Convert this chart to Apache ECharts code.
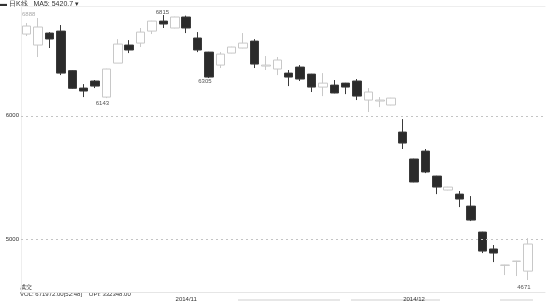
<!DOCTYPE html>
<html>
<head>
<meta charset="utf-8">
<script src="https://cdn.jsdelivr.net/npm/echarts@6/dist/echarts.min.js"></script>
<style>html,body{margin:0;padding:0;background:#fff}#c{width:550px;height:305px}</style>
</head>
<body>
<div id="c"></div>
<script>
// trading days (Oct 14 - Dec 15, 2014) + one empty slot
var categories = ['2014/10/14','2014/10/15','2014/10/16','2014/10/17','2014/10/20','2014/10/21','2014/10/22','2014/10/23','2014/10/24','2014/10/27','2014/10/28','2014/10/29','2014/10/30','2014/10/31',
  '2014/11/03','2014/11/04','2014/11/05','2014/11/06','2014/11/07','2014/11/10','2014/11/11','2014/11/12','2014/11/13','2014/11/14','2014/11/17','2014/11/18','2014/11/19','2014/11/20','2014/11/21','2014/11/24','2014/11/25','2014/11/26','2014/11/27','2014/11/28',
  '2014/12/01','2014/12/02','2014/12/03','2014/12/04','2014/12/05','2014/12/08','2014/12/09','2014/12/10','2014/12/11','2014/12/12','2014/12/15',''];
// [open, close, low, high]
var candles = [
  [6661,6726,6645,6750],[6572,6718,6475,6791],[6669,6621,6548,6677],[6685,6345,6329,6734],[6365,6222,6218,6368],
  [6224,6200,6151,6256],[6281,6240,6224,6289],[6151,6378,6143,6380],[6426,6580,6426,6620],[6572,6532,6507,6612],
  [6588,6677,6556,6710],[6685,6766,6661,6768],[6766,6742,6710,6815],[6710,6799,6708,6801],[6799,6710,6669,6810],
  [6629,6532,6515,6677],[6515,6313,6305,6517],[6410,6499,6386,6515],[6507,6556,6505,6558],[6548,6588,6546,6669],
  [6604,6418,6386,6620],[6402,6410,6370,6483],[6378,6451,6329,6475],[6345,6313,6240,6370],[6394,6297,6281,6410],
  [6337,6232,6192,6339],[6232,6264,6159,6345],[6248,6184,6182,6289],[6264,6232,6175,6266],[6281,6159,6127,6297],
  [6127,6192,6030,6224],[6119,6127,6070,6151],[6087,6143,6085,6145],[5868,5779,5731,5973],[5650,5464,5462,5652],
  [5714,5545,5536,5731],[5512,5423,5366,5514],[5399,5423,5397,5425],[5366,5326,5261,5391],[5269,5156,5148,5350],
  [5059,4905,4889,5061],[4922,4889,4816,4954],[4790,4792,4711,4794],[4822,4824,4703,4826],[4743,4962,4671,5010]
];
var gridValues = [6000, 5000];
var yMin = 4574, yMax = 6888;
var annotations = [ // [candle index, field: 2=low 3=high]
  [12, 3], [7, 2], [16, 2], [44, 2]
];
var titleText = '\u25AC 日K线   MA5: 5420.7 \u25BE';
var volText = 'VOL: 671972.00[52:48]    OPI: 332348.00';
var volLabel = '成交';

var offsets = {12: [-1, -3], 7: [-4, 5], 16: [-4, 3], 44: [-4, 7]};
var markData = annotations.map(function (a) {
  var v = candles[a[0]][a[1]];
  return { coord: [categories[a[0]], v], value: v, label: { offset: offsets[a[0]] } };
});

var chart = echarts.init(document.getElementById('c'), null, {renderer: 'canvas'});
var font = 'Liberation Sans, Arial, sans-serif';
chart.setOption({
  animation: false,
  backgroundColor: '#fff',
  textStyle: {fontFamily: font},
  grid: {left: 21, right: 5, top: 6, bottom: 13},
  xAxis: [{
    type: 'category', data: categories, boundaryGap: true,
    axisLine: {lineStyle: {color: '#e6e6e6'}}, axisTick: {show: false},
    axisLabel: {
      fontSize: 6, color: '#333', margin: 4, fontFamily: font,
      interval: function (i, v) { return i > 0 && v && categories[i - 1].slice(0, 7) !== v.slice(0, 7); },
      formatter: function (v) { return v.slice(0, 7); }
    },
    splitLine: {show: false}
  }, {
    type: 'category', data: categories, position: 'top', boundaryGap: true,
    axisLine: {lineStyle: {color: '#eeeeee'}}, axisTick: {show: false}, axisLabel: {show: false}
  }],
  yAxis: {
    type: 'value', min: yMin, max: yMax, scale: true,
    axisLine: {show: true, lineStyle: {color: '#eeeeee'}}, axisTick: {show: false},
    splitLine: {show: false},
    axisLabel: {customValues: gridValues, fontSize: 6, color: '#333', margin: 2, fontFamily: font,
      formatter: function (v) { return String(v); }}
  },
  series: [{
    type: 'candlestick', data: candles, barWidth: 9,
    itemStyle: {color: '#ffffff', color0: '#2b2b2b', borderColor: '#c8c8c8', borderColor0: '#3a3a3a', borderWidth: 1},
    markLine: {
      silent: true, symbol: 'none', label: {show: false},
      lineStyle: {type: [2, 3], color: '#c4c4c4', width: 1},
      data: gridValues.map(function (g) { return {yAxis: g}; })
    },
    markPoint: {
      symbol: 'circle', symbolSize: 1, itemStyle: {color: 'rgba(0,0,0,0)'},
      label: {show: true, position: 'inside', fontSize: 6, color: '#555', fontFamily: font, formatter: '{c}'},
      data: markData
    }
  }],
  graphic: [
    {type: 'text', left: 0, top: 1, style: {text: titleText, fontSize: 7, fill: '#333', fontFamily: font}},
    {type: 'text', left: 22, top: 11, style: {text: String(yMax), fontSize: 6, fill: '#aaa', fontFamily: font}},
    {type: 'text', left: 20, top: 284, style: {text: volLabel, fontSize: 6, fill: '#333', fontFamily: font}},
    {type: 'text', left: 20, top: 291, style: {text: volText, fontSize: 6, fill: '#333', fontFamily: font}},
    {type: 'line', shape: {x1: 238, y1: 300, x2: 340, y2: 300}, style: {stroke: '#cfcfcf', lineWidth: 1}},
    {type: 'line', shape: {x1: 351, y1: 300, x2: 440, y2: 300}, style: {stroke: '#cfcfcf', lineWidth: 1}},
    {type: 'line', shape: {x1: 500, y1: 300, x2: 533, y2: 300}, style: {stroke: '#cfcfcf', lineWidth: 1}}
  ]
});
</script>
</body>
</html>
